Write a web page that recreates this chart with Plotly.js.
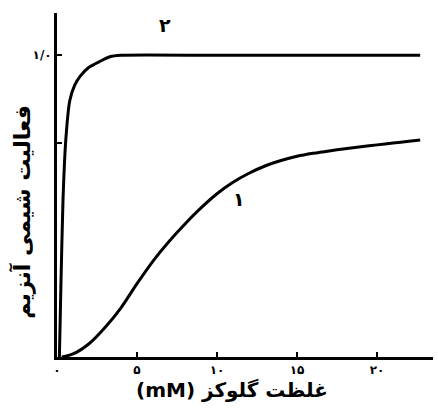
<!DOCTYPE html>
<html>
<head>
<meta charset="utf-8">
<script src="https://cdn.plot.ly/plotly-3.0.1.min.js"></script>
<style>html,body{margin:0;padding:0;background:#fff;}#chart{width:438px;height:410px;}</style>
</head>
<body>
<div id="chart"></div>
<script>
// Curve 1 (sigmoidal)
const x1 = [0.3, 1, 2, 3, 4, 5, 6, 7, 8, 9, 10, 11, 12, 13, 14, 15, 16, 17, 18, 19, 20, 21, 22, 22.7];
const y1 = [0, 0.01, 0.044, 0.098, 0.163, 0.243, 0.318, 0.383, 0.441, 0.494, 0.541, 0.579, 0.609, 0.633, 0.651, 0.665, 0.675, 0.683, 0.69, 0.697, 0.703, 0.709, 0.715, 0.719];
// Curve 2 (hyperbolic)
const x2 = [0.15, 0.25, 0.375, 0.55, 0.8, 1.1, 1.44, 2.0, 2.7, 3.3, 4, 10, 22.7];
const y2 = [0, 0.25, 0.52, 0.72, 0.85, 0.9, 0.93, 0.96, 0.98, 0.995, 1.0, 1.0, 1.0];
const xTickVals = [0, 5, 10, 15, 20];
const xTickText = ['۰', '۵', '۱۰', '۱۵', '۲۰'];
const yTickVals = [0.71, 1.0];
const yTickText = ['', '۱/۰'];
const curveLabels = ['۱', '۲'];

const font = 'DejaVu Sans, Noto Sans, sans-serif';
const traces = [
  {x: x1, y: y1, mode: 'lines', line: {color: '#000', width: 3, shape: 'spline', smoothing: 0.8}, hoverinfo: 'skip'},
  {x: x2, y: y2, mode: 'lines', line: {color: '#000', width: 3, shape: 'spline', smoothing: 0.6}, hoverinfo: 'skip'}
];
const layout = {
  width: 438, height: 410,
  margin: {l: 57, r: 5, t: 13, b: 53},
  paper_bgcolor: '#fff', plot_bgcolor: '#fff',
  showlegend: false,
  xaxis: {
    range: [0, 23.5], showgrid: false, zeroline: false,
    showline: true, linecolor: '#000', linewidth: 3,
    tickvals: xTickVals, ticktext: xTickText,
    ticks: 'inside', ticklen: 5, tickwidth: 2, tickcolor: '#000',
    tickfont: {family: font, size: 12, color: '#000', weight: 'bold'}
  },
  yaxis: {
    range: [0, 1.14], showgrid: false, zeroline: false,
    showline: true, linecolor: '#000', linewidth: 3,
    tickvals: yTickVals, ticktext: yTickText,
    ticks: 'inside', ticklen: 5, tickwidth: 2, tickcolor: '#000',
    tickfont: {family: font, size: 12, color: '#000', weight: 'bold'}
  },
  annotations: [
    {xref: 'paper', yref: 'paper', x: 22/381, xanchor: 'center', y: (357-212)/344, yanchor: 'middle', xshift: -57,
     text: 'فعالیت شیمی آنزیم', textangle: -90, showarrow: false,
     font: {family: font, size: 22, color: '#000', weight: 'bold'}},
    {xref: 'paper', yref: 'paper', x: (232-57)/376, xanchor: 'center', y: -(390-357)/344, yanchor: 'middle',
     text: '(mM) غلظت گلوکز', showarrow: false,
     font: {family: font, size: 20, color: '#000', weight: 'bold'}},
    {xref: 'x', yref: 'y', x: 11.4, y: 0.525, text: curveLabels[0], showarrow: false,
     font: {family: font, size: 19, color: '#000', weight: 'bold'}},
    {xref: 'x', yref: 'y', x: 6.75, y: 1.1, text: curveLabels[1], showarrow: false,
     font: {family: font, size: 19, color: '#000', weight: 'bold'}}
  ]
};
Plotly.newPlot('chart', traces, layout, {displayModeBar: false, staticPlot: true});
</script>
</body>
</html>
